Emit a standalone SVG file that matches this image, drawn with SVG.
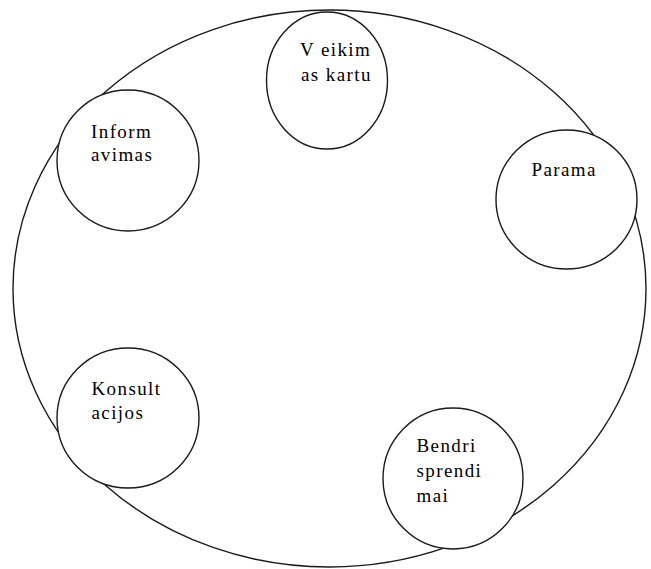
<svg xmlns="http://www.w3.org/2000/svg" width="651" height="569" viewBox="0 0 651 569">
<style>
.sh{fill:#fff;stroke:#1a1a1a;stroke-width:1.4}
.t{font-family:"Liberation Serif","Times New Roman",serif;font-size:19px;fill:#000;letter-spacing:1.4px}
</style>
<rect width="651" height="569" fill="#fff"/>
<g id="outer"><ellipse class="sh" cx="329.5" cy="288.5" rx="316.5" ry="278.5"/></g>
<g id="n-veikim"><ellipse class="sh" cx="327" cy="80.5" rx="60.5" ry="68.5"/>
<text class="t" x="300" y="56">V eikim</text><text class="t" x="301" y="80.5">as kartu</text></g>
<g id="n-inform"><ellipse class="sh" cx="128" cy="160.5" rx="71" ry="70.5"/>
<text class="t" x="91" y="138">Inform</text><text class="t" x="91" y="161">avimas</text></g>
<g id="n-parama"><ellipse class="sh" cx="566.5" cy="199.5" rx="70.5" ry="69.5"/>
<text class="t" x="531.5" y="175.5">Parama</text></g>
<g id="n-konsult"><ellipse class="sh" cx="128" cy="418" rx="71" ry="70"/>
<text class="t" x="91.5" y="395">Konsult</text><text class="t" x="91.5" y="418.5">acijos</text></g>
<g id="n-bendri"><ellipse class="sh" cx="453" cy="478.5" rx="70" ry="70.5"/>
<text class="t" x="416.5" y="452">Bendri</text><text class="t" x="416.5" y="477">sprendi</text><text class="t" x="416.5" y="502">mai</text></g>
<g id="connectors"/>
</svg>
